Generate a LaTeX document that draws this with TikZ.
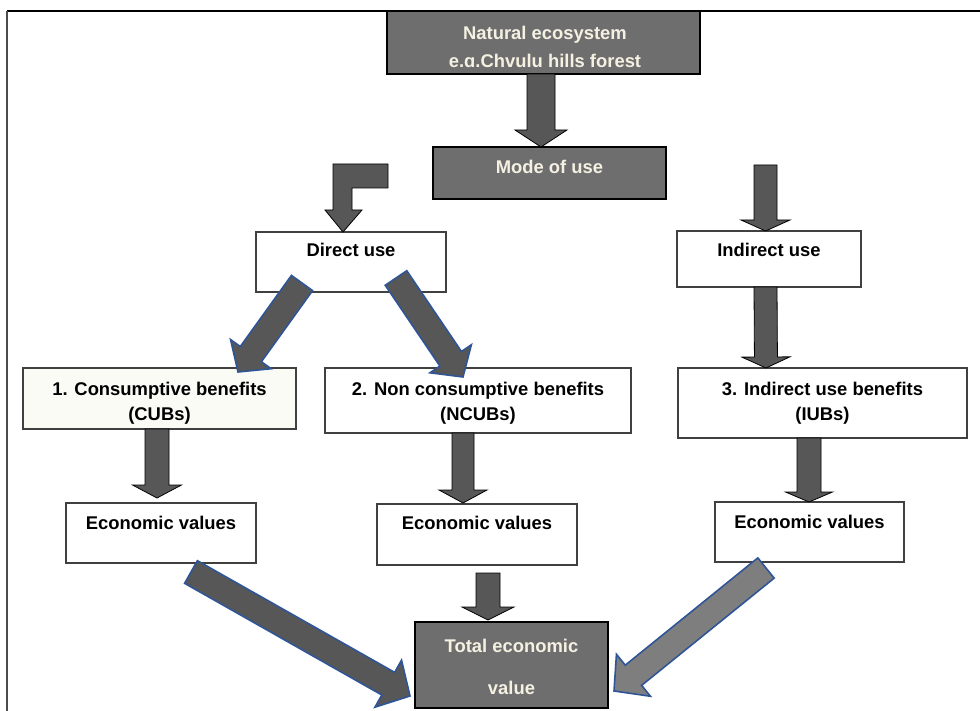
\documentclass[tikz,border=0pt]{standalone}
\usepackage{fontspec}
\setmainfont{Liberation Sans}
\usetikzlibrary{calc}
\definecolor{boxgray}{HTML}{6E6E6E}
\definecolor{arrowgray}{HTML}{575757}
\definecolor{lightarrow}{HTML}{7E7E7E}
\definecolor{arrowblue}{HTML}{2F5597}
\definecolor{cream}{HTML}{F4F0E2}
\definecolor{boxline}{HTML}{404040}
\definecolor{paleyellow}{HTML}{FBFBF6}

% block arrow: [style]{from}{to}{half shaft}{half head}{head length}
\newcommand{\blockarrow}[6][]{%
  \coordinate (ba-s) at (#2);
  \coordinate (ba-e) at (#3);
  \coordinate (ba-h) at ($(ba-e)!#6!(ba-s)$);
  \draw[#1] ($(ba-s)!#4!90:(ba-e)$) -- ($(ba-h)!#4!-90:(ba-s)$)
    -- ($(ba-h)!#5!-90:(ba-s)$) -- (ba-e) -- ($(ba-h)!#5!90:(ba-s)$)
    -- ($(ba-h)!#4!90:(ba-s)$) -- ($(ba-s)!#4!-90:(ba-e)$) -- cycle;
}

\begin{document}
\begin{tikzpicture}[x=1pt,y=-1pt,
  every node/.style={inner sep=0pt,outer sep=0pt},
  whitebox/.style={draw=boxline,line width=1.2pt,fill=white},
  graybox/.style={draw=black,line width=1.2pt,fill=boxgray},
  lbl/.style={font=\fontsize{18.4}{25}\selectfont\bfseries,text=black,align=center},
  glbl/.style={font=\fontsize{18.4}{28}\selectfont\bfseries,text=cream,align=center},
  varrow/.style={draw=black,line width=0.8pt,fill=arrowgray,line join=miter},
  darrow/.style={draw=arrowblue,line width=1.6pt,fill=arrowgray,line join=miter},
  larrow/.style={draw=arrowblue,line width=1.6pt,fill=lightarrow,line join=miter}]
\useasboundingbox (0,0) rectangle (980,711);
\fill[white] (0,0) rectangle (980,711);
% frame
\draw[black,line width=2.4pt] (7,11) -- (980,11);
\draw[black!70,line width=1.6pt] (7,11) -- (7,711);

% boxes
\node[graybox,minimum width=313pt,minimum height=63pt] (nat) at (543.5,42.5) {};
\node[glbl] (nattxt) at (545,47) {Natural ecosystem\\e.ɑ.Chvulu hills forest};
\node[graybox,minimum width=233pt,minimum height=52pt] (mode) at (549.5,173) {};
\node[glbl] (modetxt) at (549.5,167) {Mode of use};

\node[whitebox,minimum width=190pt,minimum height=60pt] (direct) at (351,262) {};
\node[lbl] (directtxt) at (351,250) {Direct use};
\node[whitebox,minimum width=184pt,minimum height=56pt] (indirect) at (769,259) {};
\node[lbl] (indirecttxt) at (769,250) {Indirect use};

\node[whitebox,fill=paleyellow,minimum width=273pt,minimum height=61pt] (cub) at (159.5,398.5) {};
\node[lbl] (cubtxt) at (159.5,403) {1. Consumptive benefits\\(CUBs)};
\node[whitebox,minimum width=306pt,minimum height=65pt] (ncub) at (478,400.5) {};
\node[lbl] (ncubtxt) at (478,403) {2. Non consumptive benefits\\(NCUBs)};
\node[whitebox,minimum width=289pt,minimum height=70pt] (iub) at (822.5,403) {};
\node[lbl] (iubtxt) at (822.5,403) {3. Indirect use benefits\\(IUBs)};

\node[whitebox,minimum width=190pt,minimum height=60pt] (ev1) at (161,533) {};
\node[lbl] (ev1txt) at (161,523) {Economic values};
\node[whitebox,minimum width=200pt,minimum height=61pt] (ev2) at (477,534.5) {};
\node[lbl] (ev2txt) at (477,523) {Economic values};
\node[whitebox,minimum width=189pt,minimum height=60pt] (ev3) at (809.5,532) {};
\node[lbl] (ev3txt) at (809.5,522) {Economic values};

\node[graybox,minimum width=193pt,minimum height=86pt] (tev) at (511.5,665) {};
\node[glbl,font=\fontsize{18.4}{42}\selectfont\bfseries] (tevtxt) at (511.5,667) {Total economic\\value};

% free ends
\coordinate (lstart) at (388,176);
\coordinate (istart) at (765.5,165);

% vertical block arrows
\blockarrow[varrow]{$(nat.south)+(-2.5,0)$}{$(mode.north)+(-8.5,0)$}{14pt}{26pt}{17pt}
\draw[varrow] ($(lstart)+(0,-12)$) -- ($(lstart)+(-55,-12)$) -- ($(lstart)+(-55,34)$)
  -- ($(lstart)+(-63,34)$) -- ($(direct.north)+(-8,0)$) -- ($(lstart)+(-26,34)$)
  -- ($(lstart)+(-36,34)$) -- ($(lstart)+(-36,12)$) -- ($(lstart)+(0,12)$) -- cycle;
\blockarrow[varrow]{istart}{$(indirect.north)+(-3.5,0)$}{11.5pt}{24.5pt}{11pt}
\blockarrow[varrow]{$(indirect.south)+(-3.5,0)$}{$(iub.north)+(-56.5,0)$}{11.5pt}{24pt}{11pt}
\blockarrow[varrow]{$(cub.south)+(-2.5,0)$}{$(ev1.north)+(-4,-5)$}{12pt}{24.5pt}{13pt}
\blockarrow[varrow]{$(ncub.south)+(-15,0)$}{$(ev2.north)+(-14,-1)$}{11pt}{24pt}{13pt}
\blockarrow[varrow]{$(iub.south)+(-13.5,0)$}{$(ev3.north)+(-0.5,0)$}{12pt}{23.5pt}{10pt}
\blockarrow[varrow]{$(ev2.south)+(11,8)$}{$(tev.north)+(-23.5,-2)$}{12pt}{26pt}{13pt}

% diagonal block arrows
\blockarrow[darrow]{$(direct.south)+(-49,-9)$}{$(cub.north)+(78.5,4)$}{13pt}{25pt}{22pt}
\blockarrow[darrow]{$(direct.south)+(45,-14)$}{$(ncub.north)+(-15,9)$}{13pt}{25pt}{22pt}
\blockarrow[darrow]{$(ev1.south)+(30,9)$}{$(tev.west)+(-5,31)$}{13pt}{27pt}{25pt}
\blockarrow[larrow]{$(ev3.south)+(-43.5,6)$}{$(tev.east)+(6,26)$}{13pt}{27pt}{25pt}
\end{tikzpicture}
\end{document}
